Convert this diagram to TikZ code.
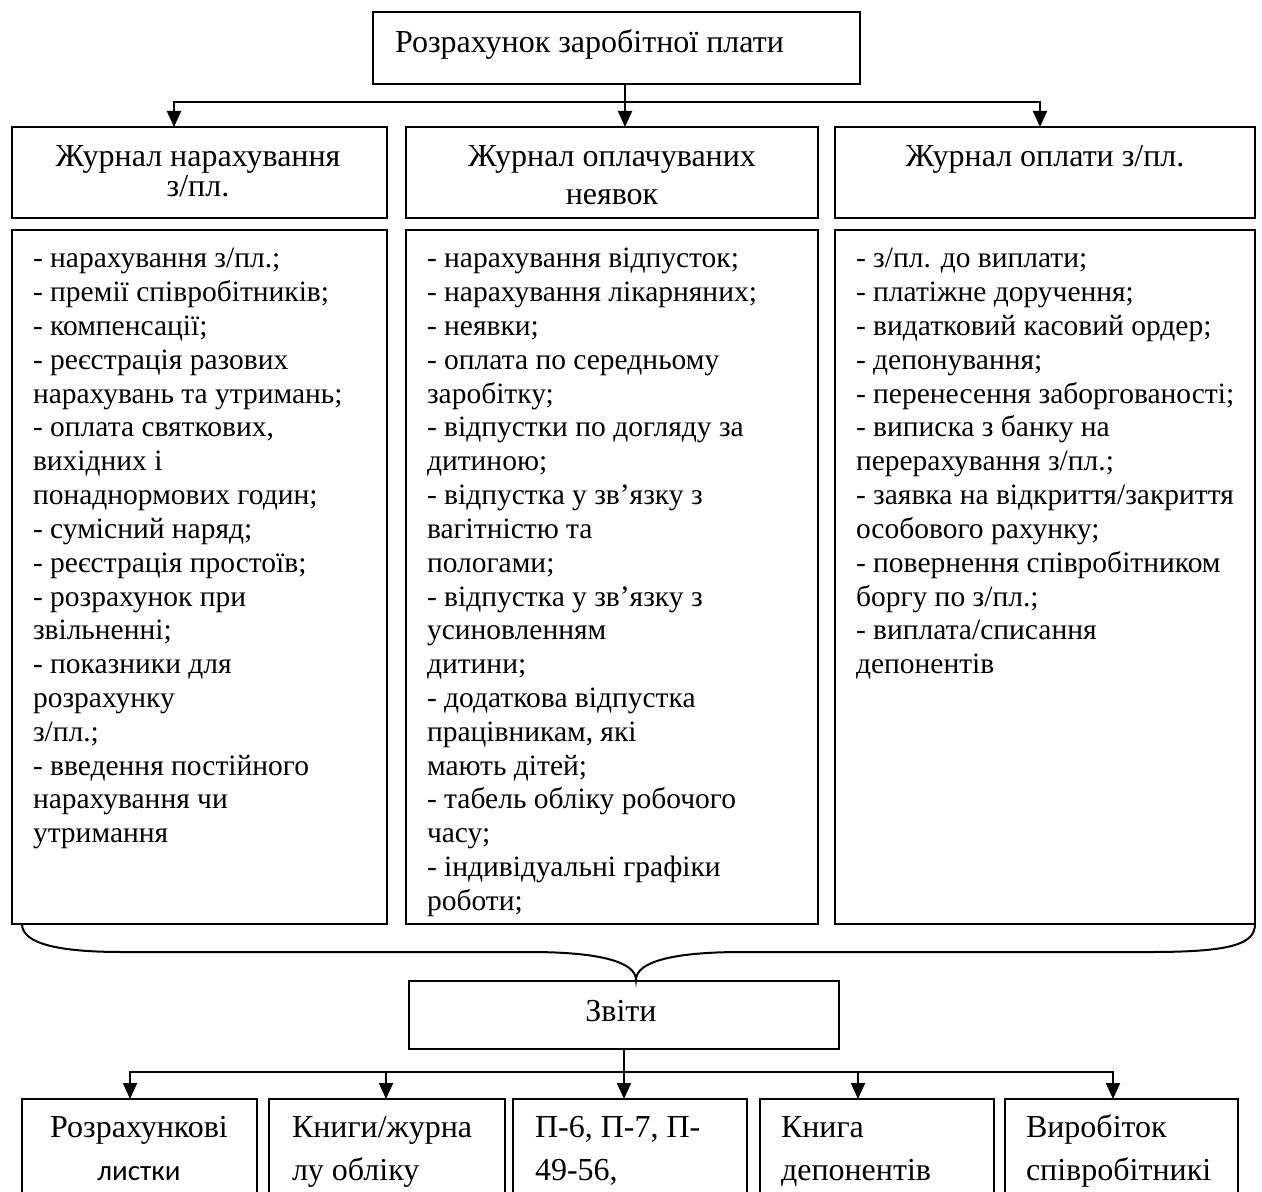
\documentclass[tikz,border=0pt]{standalone}
\usepackage{fontspec}
\setmainfont{Liberation Serif}
\newfontfamily\carl{Carlito}
\usetikzlibrary{arrows.meta}
\tikzset{
  bx/.style={draw, line width=1pt, rectangle, inner sep=0pt, outer sep=0pt},
  ln/.style={line width=1pt},
  arr/.style={line width=1pt, -{Triangle[length=8pt,width=7pt]}},
  tx/.style={inner sep=0pt, outer sep=0pt, font=\fontsize{14.75}{16.9}\selectfont},
  hx/.style={inner sep=0pt, outer sep=0pt, font=\fontsize{16}{15}\selectfont},
  bt/.style={inner sep=0pt, outer sep=0pt, font=\fontsize{16}{21.5}\selectfont},
}
\newcommand\mybox[5]{\node[bx, minimum width={(#4-#2)*0.5pt}, minimum height={(#5-#3)*0.5pt}] (#1) at ({(#2+#4)/2},{(#3+#5)/2}) {};}
\begin{document}
\begin{tikzpicture}[x=0.5pt,y=-0.5pt]
\useasboundingbox (0,0) rectangle (1262,1192);
\clip (0,0) rectangle (1262,1192);
% top
\mybox{top}{373}{12}{860}{84}
\node[hx, anchor=base west] (topt) at (395,53) {Розрахунок заробітної плати};
% headers
\mybox{h1}{12}{127}{387}{218}
\mybox{h2}{406}{127}{818}{218}
\mybox{h3}{835}{127}{1255}{218}
\node[hx, anchor=base] (h1t) at (198,167) {\parbox[t]{180pt}{\centering Журнал нарахування\\з/пл.}};
\node[hx, anchor=base] (h2t) at (612,167) {\parbox[t]{200pt}{\centering\fontsize{16}{19}\selectfont Журнал оплачуваних\\неявок}};
\node[hx, anchor=base] (h3t) at (1045,167) {Журнал оплати з/пл.};
% connectors top
\coordinate (j1) at (625,102);
\coordinate (a1) at (174,127);
\coordinate (a2) at (625,127);
\coordinate (a3) at (1040,127);
\draw[ln] (top.south -| j1) -- (j1);
\draw[arr] (j1) -| (a1);
\draw[arr] (j1) -- (a2);
\draw[arr] (j1) -| (a3);
% content boxes
\mybox{c1}{12}{230}{387}{924}
\mybox{c2}{406}{230}{818}{924}
\mybox{c3}{835}{230}{1255}{924}
\node[tx, anchor=base west] (c1t) at (33,268) {\parbox[t]{220pt}{\raggedright
- нарахування з/пл.;\\
- премії співробітників;\\
- компенсації;\\
- реєстрація разових\\
нарахувань та утримань;\\
- оплата святкових,\\
вихідних і\\
понаднормових годин;\\
- сумісний наряд;\\
- реєстрація простоїв;\\
- розрахунок при\\
звільненні;\\
- показники для\\
розрахунку\\
з/пл.;\\
- введення постійного\\
нарахування чи\\
утримання}};
\node[tx, anchor=base west] (c2t) at (427,268) {\parbox[t]{220pt}{\raggedright
- нарахування відпусток;\\
- нарахування лікарняних;\\
- неявки;\\
- оплата по середньому\\
заробітку;\\
- відпустки по догляду за\\
дитиною;\\
- відпустка у зв’язку з\\
вагітністю та\\
пологами;\\
- відпустка у зв’язку з\\
усиновленням\\
дитини;\\
- додаткова відпустка\\
працівникам, які\\
мають дітей;\\
- табель обліку робочого\\
часу;\\
- індивідуальні графіки\\
роботи;}};
\node[tx, anchor=base west] (c3t) at (856,268) {\parbox[t]{220pt}{\raggedright
- з/пл. до виплати;\\
- платіжне доручення;\\
- видатковий касовий ордер;\\
- депонування;\\
- перенесення заборгованості;\\
- виписка з банку на\\
перерахування з/пл.;\\
- заявка на відкриття/закриття\\
особового рахунку;\\
- повернення співробітником\\
боргу по з/пл.;\\
- виплата/списання\\
депонентів}};
% brace
\coordinate (bl) at (22,924);
\coordinate (btip) at (636,980);
\coordinate (br) at (1255,924);
\draw[ln] (bl) .. controls (22,944) and (60,952) .. (122,952) -- (530,952)
  .. controls (600,952) and (636,962) .. (btip)
  .. controls (636,962) and (672,952) .. (742,952) -- (1150,952)
  .. controls (1232,952) and (1255,944) .. (br);
% reports
\mybox{zv}{409}{981}{839}{1049}
\node[hx, anchor=base] (zvt) at (621,1021) {Звіти};
\coordinate (j2) at (624,1072);
\draw[ln] (zv.south) -- (j2);
\coordinate (t1) at (130,1099);
\coordinate (t2) at (386,1099);
\coordinate (t3) at (624,1099);
\coordinate (t4) at (858,1099);
\coordinate (t5) at (1113,1099);
\draw[arr] (j2) -| (t1);
\draw[arr] (j2) -| (t2);
\draw[arr] (j2) -- (t3);
\draw[arr] (j2) -| (t4);
\draw[arr] (j2) -| (t5);
\mybox{b1}{22}{1099}{257}{1260}
\mybox{b2}{269}{1099}{505}{1260}
\mybox{b3}{513}{1099}{747}{1260}
\mybox{b4}{760}{1099}{994}{1260}
\mybox{b5}{1005}{1099}{1238}{1260}
\node[bt, anchor=base] (b1t) at (139,1137) {Розрахункові};
\node[inner sep=0pt, anchor=base, font=\carl\fontsize{14.5}{16}\selectfont] (b1u) at (139,1180) {листки};
\node[bt, anchor=base west] (b2t) at (292,1137) {\parbox[t]{200pt}{Книги/журна\\лу обліку}};
\node[bt, anchor=base west] (b3t) at (535,1137) {\parbox[t]{200pt}{П-6, П-7, П-\\49-56,}};
\node[bt, anchor=base west] (b4t) at (781,1137) {\parbox[t]{200pt}{Книга\\депонентів}};
\node[bt, anchor=base west] (b5t) at (1026,1137) {\parbox[t]{200pt}{Виробіток\\співробітникі}};
\end{tikzpicture}
\end{document}
